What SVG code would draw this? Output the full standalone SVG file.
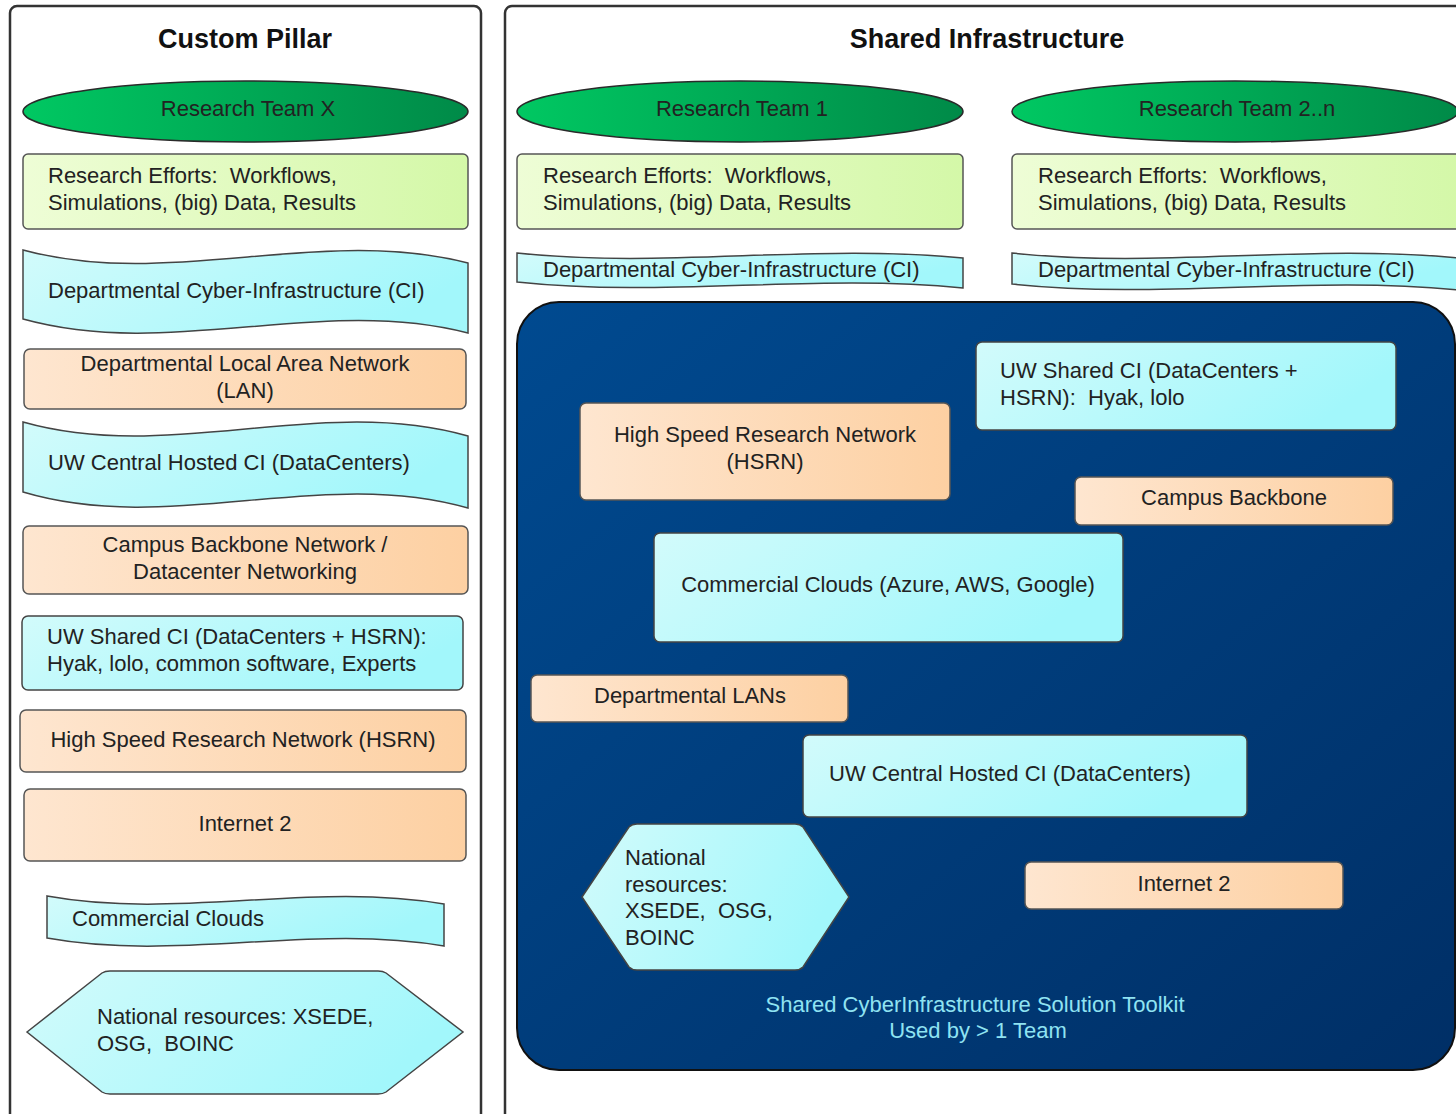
<svg xmlns="http://www.w3.org/2000/svg" width="1456" height="1114" viewBox="0 0 1456 1114">
<defs>
<linearGradient id="gGreen" x1="0" y1="0" x2="1" y2="0"><stop offset="0" stop-color="#00c862"/><stop offset="1" stop-color="#008a48"/></linearGradient>
<linearGradient id="gLime" x1="0" y1="0" x2="1" y2="0"><stop offset="0" stop-color="#eefdd6"/><stop offset="1" stop-color="#d4f8a8"/></linearGradient>
<linearGradient id="gCyan" x1="0" y1="0" x2="1" y2="0.3"><stop offset="0" stop-color="#d2fbfb"/><stop offset="1" stop-color="#a2f7fb"/></linearGradient>
<linearGradient id="gPeach" x1="0" y1="0" x2="1" y2="0"><stop offset="0" stop-color="#fee6d0"/><stop offset="1" stop-color="#fdd0a2"/></linearGradient>
<linearGradient id="gBlue" x1="0" y1="0" x2="1" y2="1"><stop offset="0" stop-color="#004a90"/><stop offset="1" stop-color="#002f66"/></linearGradient>
<style>
.panel{fill:#fff;stroke:#333;stroke-width:2.5}
.title{font-family:"Liberation Sans",Arial,sans-serif;font-size:27px;font-weight:bold;fill:#111;text-anchor:middle}
.t{font-family:"Liberation Sans",Arial,sans-serif;font-size:22px;fill:#222;white-space:pre}
.c{text-anchor:middle}
.ell{fill:url(#gGreen);stroke:#2a2a2a;stroke-width:1.5}
.lime{fill:url(#gLime);stroke:#555;stroke-width:1.5}
.cyan{fill:url(#gCyan);stroke:#444;stroke-width:1.5}
.peach{fill:url(#gPeach);stroke:#555;stroke-width:1.5}
.blue{fill:url(#gBlue);stroke:#111;stroke-width:2}
.foot{font-family:"Liberation Sans",Arial,sans-serif;font-size:22px;fill:#8fe3f2;text-anchor:middle}
</style>
</defs>

<g id="custom-pillar">
<rect class="panel" x="10" y="6" width="471" height="1130" rx="7"/>
<text class="title" x="245" y="48">Custom Pillar</text>
</g>
<g id="shared-infrastructure">
<rect class="panel" x="505" y="6" width="980" height="1130" rx="7"/>
<text class="title" x="987" y="48">Shared Infrastructure</text>
</g>

<g id="team-x"><ellipse class="ell" cx="245.5" cy="111.5" rx="222.5" ry="30.5"/><text class="t c" x="248" y="116">Research Team X</text></g>
<g id="efforts-x"><rect class="lime" x="23" y="154" width="445" height="75" rx="5"/><text class="t" x="48" y="183">Research Efforts:  Workflows,</text><text class="t" x="48" y="210">Simulations, (big) Data, Results</text></g>
<g id="dept-ci-x"><path class="cyan" d="M23,250 C171,290 320,225 468,263 L468,333 C320,295 171,360 23,319 Z"/><text class="t" x="48" y="298">Departmental Cyber-Infrastructure (CI)</text></g>
<g id="dept-lan-x"><rect class="peach" x="24" y="349" width="442" height="60" rx="6"/><text class="t c" x="245" y="371">Departmental Local Area Network</text><text class="t c" x="245" y="398">(LAN)</text></g>
<g id="uw-central-x"><path class="cyan" d="M23,422 C171,464 320,394 468,436 L468,508 C320,466 171,536 23,492 Z"/><text class="t" x="48" y="470">UW Central Hosted CI (DataCenters)</text></g>
<g id="campus-backbone-x"><rect class="peach" x="23" y="526" width="445" height="68" rx="6"/><text class="t c" x="245" y="552">Campus Backbone Network /</text><text class="t c" x="245" y="579">Datacenter Networking</text></g>
<g id="uw-shared-x"><rect class="cyan" x="22" y="616" width="441" height="74" rx="6"/><text class="t" x="47" y="644">UW Shared CI (DataCenters + HSRN):</text><text class="t" x="47" y="671">Hyak, lolo, common software, Experts</text></g>
<g id="hsrn-x"><rect class="peach" x="20" y="710" width="446" height="62" rx="6"/><text class="t c" x="243" y="747">High Speed Research Network (HSRN)</text></g>
<g id="internet2-x"><rect class="peach" x="24" y="789" width="442" height="72" rx="6"/><text class="t c" x="245" y="831">Internet 2</text></g>
<g id="clouds-x"><path class="cyan" d="M47,896 C179,920 312,881 444,904 L444,946 C312,923 179,962 47,938 Z"/><text class="t" x="72" y="926">Commercial Clouds</text></g>
<g id="national-x"><path class="cyan" d="M27,1032 L102,973 Q105,971 110,971 L378,971 Q383,971 386,973 L463,1032 L386,1092 Q383,1094 378,1094 L110,1094 Q105,1094 102,1092 Z"/><text class="t" x="97" y="1024">National resources: XSEDE,</text><text class="t" x="97" y="1051">OSG,  BOINC</text></g>

<g id="team-1"><ellipse class="ell" cx="740" cy="111.5" rx="223" ry="30.5"/><text class="t c" x="742" y="116">Research Team 1</text></g>
<g id="efforts-1"><rect class="lime" x="517" y="154" width="446" height="75" rx="5"/><text class="t" x="543" y="183">Research Efforts:  Workflows,</text><text class="t" x="543" y="210">Simulations, (big) Data, Results</text></g>
<g id="dept-ci-1"><path class="cyan" d="M517,253 C666,269 814,243 963,258 L963,288 C814,273 666,298 517,282 Z"/><text class="t" x="543" y="277">Departmental Cyber-Infrastructure (CI)</text></g>

<g id="team-2n"><ellipse class="ell" cx="1235" cy="111.5" rx="223" ry="30.5"/><text class="t c" x="1237" y="116">Research Team 2..n</text></g>
<g id="efforts-2n"><rect class="lime" x="1012" y="154" width="450" height="75" rx="5"/><text class="t" x="1038" y="183">Research Efforts:  Workflows,</text><text class="t" x="1038" y="210">Simulations, (big) Data, Results</text></g>
<g id="dept-ci-2n"><path class="cyan" d="M1012,253 C1161,269 1309,243 1458,258 L1458,290 C1309,275 1161,300 1012,284 Z"/><text class="t" x="1038" y="277">Departmental Cyber-Infrastructure (CI)</text></g>

<g id="toolkit">
<rect class="blue" x="517" y="302" width="938" height="768" rx="42"/>
<text class="foot" x="975" y="1012">Shared CyberInfrastructure Solution Toolkit</text>
<text class="foot" x="978" y="1038">Used by &gt; 1 Team</text>
</g>
<g id="uw-shared-s"><rect class="cyan" x="976" y="342" width="420" height="88" rx="6"/><text class="t" x="1000" y="378">UW Shared CI (DataCenters +</text><text class="t" x="1000" y="405">HSRN):  Hyak, lolo</text></g>
<g id="hsrn-s"><rect class="peach" x="580" y="403" width="370" height="97" rx="6"/><text class="t c" x="765" y="442">High Speed Research Network</text><text class="t c" x="765" y="469">(HSRN)</text></g>
<g id="campus-backbone-s"><rect class="peach" x="1075" y="477" width="318" height="48" rx="6"/><text class="t c" x="1234" y="505">Campus Backbone</text></g>
<g id="clouds-s"><rect class="cyan" x="654" y="533" width="469" height="109" rx="6"/><text class="t c" x="888" y="592">Commercial Clouds (Azure, AWS, Google)</text></g>
<g id="dept-lans-s"><rect class="peach" x="531" y="675" width="317" height="47" rx="6"/><text class="t c" x="690" y="703">Departmental LANs</text></g>
<g id="uw-central-s"><rect class="cyan" x="803" y="735" width="444" height="82" rx="6"/><text class="t c" x="1010" y="781">UW Central Hosted CI (DataCenters)</text></g>
<g id="national-s"><path class="cyan" d="M582,897 L629,827 Q632,824 637,824 L795,824 Q800,824 803,827 L849,897 L803,967 Q800,970 795,970 L637,970 Q632,970 629,967 Z"/><text class="t" x="625" y="865">National</text><text class="t" x="625" y="892">resources:</text><text class="t" x="625" y="918">XSEDE,  OSG,</text><text class="t" x="625" y="945">BOINC</text></g>
<g id="internet2-s"><rect class="peach" x="1025" y="862" width="318" height="47" rx="6"/><text class="t c" x="1184" y="891">Internet 2</text></g>

<g id="connectors"></g>
</svg>
